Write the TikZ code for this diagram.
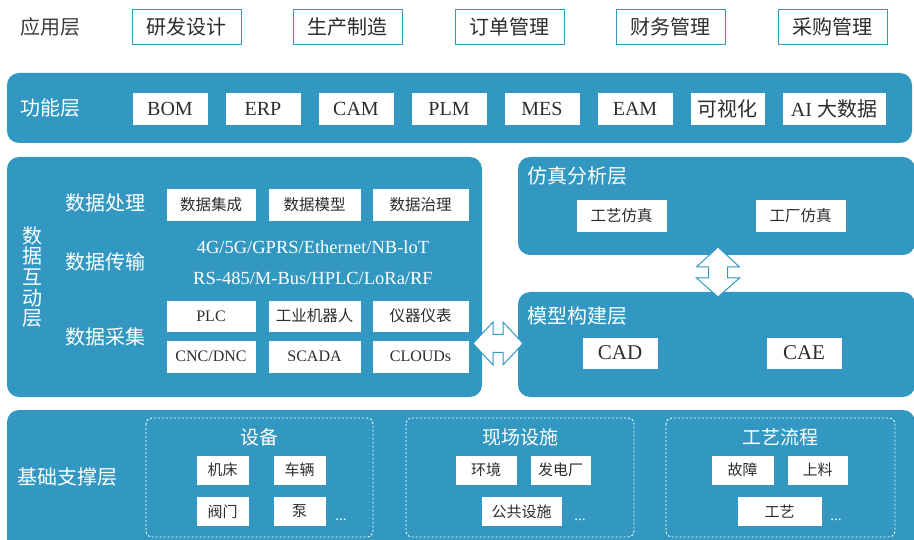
\documentclass[tikz,border=0pt]{standalone}
\usepackage{fontspec}
\setmainfont{Liberation Serif}
\newfontfamily\cjk{Noto Sans CJK SC}
\definecolor{panel}{RGB}{50,152,193}
\definecolor{txt}{RGB}{45,45,45}
\definecolor{lbl}{RGB}{60,60,60}
\begin{document}
\begin{tikzpicture}[x=1pt,y=-1pt,
  panelbox/.style={fill=panel, rounded corners=12pt},
  wbox/.style={draw=panel, fill=white, line width=0.8pt, text=txt, inner sep=0pt},
  topbox/.style={wbox, minimum width=109pt, minimum height=35pt, font=\fontsize{20}{24}\cjk},
  funbox/.style={wbox, minimum width=76pt, minimum height=33pt, font=\fontsize{20}{24}\selectfont},
  dbox/.style={wbox, minimum height=33pt, font=\fontsize{15.5}{18}\cjk},
  dlbox/.style={wbox, minimum height=33pt, font=\fontsize{16}{18}\selectfont},
  smbox/.style={wbox, minimum height=30pt, font=\fontsize{15}{18}\cjk},
  paneltitle/.style={text=white, inner sep=0pt, font=\fontsize{20}{24}\cjk},
  wtext/.style={text=white, inner sep=0pt, font=\fontsize{18.5}{22}\selectfont},
  groupbox/.style={draw=white, line width=0.9pt, dash pattern=on 2pt off 2pt, rounded corners=6pt},
  dbl/.style={fill=white, draw=panel, line width=1pt, line join=miter},
  dots/.style={text=white, inner sep=0pt, font=\fontsize{15}{16}\selectfont}
]
\useasboundingbox (0,0) rectangle (914,540);
\clip (0,0) rectangle (914,540);
\fill[white] (0,0) rectangle (914,540);

% application layer
\node[text=lbl, inner sep=0pt, font=\fontsize{20}{24}\cjk] (app) at (50,27) {应用层};
\node[topbox] (a1) at (186.5,26.5) {研发设计};
\node[topbox] (a2) at (347.5,26.5) {生产制造};
\node[topbox] (a3) at (509.5,26.5) {订单管理};
\node[topbox] (a4) at (670.5,26.5) {财务管理};
\node[topbox] (a5) at (832.5,26.5) {采购管理};

% function layer
\fill[panelbox] (7,73) rectangle (912,143);
\node[paneltitle] (fun) at (50,108) {功能层};
\node[funbox] (f1) at (170,108.5) {BOM};
\node[funbox] (f2) at (263,108.5) {ERP};
\node[funbox] (f3) at (356,108.5) {CAM};
\node[funbox] (f4) at (449,108.5) {PLM};
\node[funbox] (f5) at (542,108.5) {MES};
\node[funbox] (f6) at (635,108.5) {EAM};
\node[funbox, minimum width=75pt, font=\fontsize{20}{24}\cjk] (f7) at (727.5,108.5) {可视化};
\node[funbox, minimum width=104pt] (f8) at (834,108.5) {AI {\cjk 大数据}};

% data interaction layer
\fill[panelbox] (7,157) rectangle (482,397);
\node[text=white, inner sep=0pt, align=center, font=\fontsize{20}{20.6}\cjk] (dil) at (33,277) {数\\据\\互\\动\\层};
\node[paneltitle] (dp) at (105,203) {数据处理};
\node[paneltitle] (dt) at (105,262) {数据传输};
\node[paneltitle] (dc) at (105,337) {数据采集};
\node[dbox, minimum width=90pt] (d11) at (211,204.5) {数据集成};
\node[dbox, minimum width=93pt] (d12) at (314.5,204.5) {数据模型};
\node[dbox, minimum width=97pt] (d13) at (420.5,204.5) {数据治理};
\node[wtext] (t1) at (313,247) {4G/5G/GPRS/Ethernet/NB-loT};
\node[wtext] (t2) at (313,278) {RS-485/M-Bus/HPLC/LoRa/RF};
\node[dlbox, minimum width=90pt, minimum height=32pt] (d21) at (211,316) {PLC};
\node[dbox, minimum width=93pt, minimum height=32pt] (d22) at (314.5,316) {工业机器人};
\node[dbox, minimum width=97pt, minimum height=32pt] (d23) at (420.5,316) {仪器仪表};
\node[dlbox, minimum width=90pt] (d31) at (211,356.5) {CNC/DNC};
\node[dlbox, minimum width=93pt] (d32) at (314.5,356.5) {SCADA};
\node[dlbox, minimum width=97pt] (d33) at (420.5,356.5) {CLOUDs};

% simulation layer
\fill[panelbox] (518,157) rectangle (915,255);
\node[paneltitle, anchor=west] (sim) at (527,176) {仿真分析层};
\node[dbox, minimum width=91pt] (s1) at (621.5,215.5) {工艺仿真};
\node[dbox, minimum width=91pt] (s2) at (800.5,215.5) {工厂仿真};

% model layer
\fill[panelbox] (518,292) rectangle (915,397);
\node[paneltitle, anchor=west] (mod) at (527,316) {模型构建层};
\node[funbox, minimum width=76pt, minimum height=32pt, font=\fontsize{21}{24}\selectfont] (m1) at (620,353) {CAD};
\node[funbox, minimum width=76pt, minimum height=32pt, font=\fontsize{21}{24}\selectfont] (m2) at (804,353) {CAE};

% double arrows
\draw[dbl] (718,247) -- (739.5,267) -- (727.5,267) -- (727.5,278) -- (739.5,278)
  -- (718,297) -- (696.5,278) -- (708.5,278) -- (708.5,267) -- (696.5,267) -- cycle;
\draw[dbl] (473,343.5) -- (493,322) -- (493,334.5) -- (503,334.5) -- (503,322)
  -- (523,343.5) -- (503,365) -- (503,352.5) -- (493,352.5) -- (493,365) -- cycle;

% base layer
\fill[panelbox] (7,410) rectangle (915,570);
\node[paneltitle] (base) at (67,477) {基础支撑层};
\draw[groupbox] (146,418) rectangle (373,537);
\draw[groupbox] (406,418) rectangle (634,537);
\draw[groupbox] (666,418) rectangle (895,537);
\node[paneltitle, font=\fontsize{19}{22}\cjk] (g1) at (259.5,437) {设备};
\node[paneltitle, font=\fontsize{19}{22}\cjk] (g2) at (520,437) {现场设施};
\node[paneltitle, font=\fontsize{19}{22}\cjk] (g3) at (780.5,437) {工艺流程};
\node[smbox, minimum width=53pt] (b1) at (222.5,470) {机床};
\node[smbox, minimum width=53pt] (b2) at (299.5,470) {车辆};
\node[smbox, minimum width=53pt] (b3) at (222.5,511.5) {阀门};
\node[smbox, minimum width=53pt] (b4) at (299.5,511.5) {泵};
\node[dots] (e1) at (341,520) {...};
\node[smbox, minimum width=62pt] (b5) at (486,470) {环境};
\node[smbox, minimum width=61pt] (b6) at (560.5,470) {发电厂};
\node[smbox, minimum width=81pt] (b7) at (521.5,511.5) {公共设施};
\node[dots] (e2) at (580,520) {...};
\node[smbox, minimum width=63pt] (b8) at (742.5,470) {故障};
\node[smbox, minimum width=61pt] (b9) at (817.5,470) {上料};
\node[smbox, minimum width=85pt] (b10) at (779.5,511.5) {工艺};
\node[dots] (e3) at (836,520) {...};
\end{tikzpicture}
\end{document}
